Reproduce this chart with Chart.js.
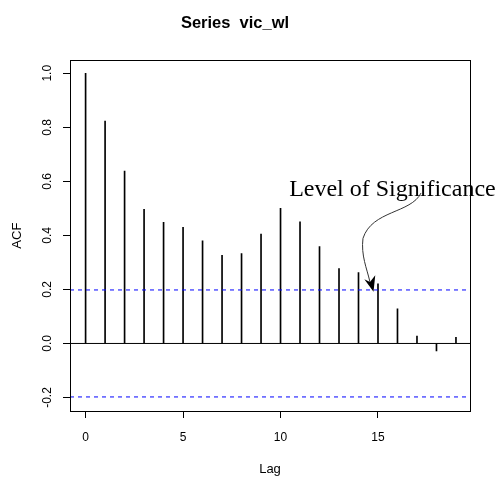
<!DOCTYPE html>
<html>
<head>
  <title>Series vic_wl</title>
  <script src="https://cdn.jsdelivr.net/npm/chart.js"></script>
  <style>
    body {
      margin: 0;
      background-color: #fff;
    }
  </style>
</head>
<body>
  <canvas id="acfChart" width="498" height="477"></canvas>

  <script>
    // lags and autocorrelations
    const lags = [0, 1, 2, 3, 4, 5, 6, 7, 8, 9, 10, 11, 12, 13, 14, 15, 16, 17, 18, 19];
    const acfValues = [1.0, 0.823, 0.638, 0.496, 0.448, 0.43, 0.38, 0.326, 0.333, 0.405,
                       0.5, 0.45, 0.359, 0.277, 0.262, 0.221, 0.128, 0.027, -0.028, 0.023];
    const confLimit = 0.198;
    const xTicks = [0, 5, 10, 15];
    const yTicks = [-0.2, 0.0, 0.2, 0.4, 0.6, 0.8, 1.0];
    const xRange = [-0.8, 19.72];
    const yRange = [-0.25, 1.048];

    const sansFont = 'Liberation Sans, Arial, sans-serif';

    // box round the plot, rotated y labels, and the hand-drawn note
    const extras = {
      id: 'extras',
      afterDraw(chart) {
        const ctx = chart.ctx;
        const area = chart.chartArea;
        const xs = chart.scales.x;
        const ys = chart.scales.y;

        ctx.save();
        ctx.strokeStyle = '#000';
        ctx.lineWidth = 1;
        ctx.strokeRect(Math.round(area.left) + 0.5, Math.round(area.top) + 0.5,
                       Math.round(area.right - area.left), Math.round(area.bottom - area.top));

        ctx.fillStyle = '#000';
        ctx.font = '12px ' + sansFont;
        ctx.textAlign = 'center';
        ctx.textBaseline = 'middle';
        yTicks.forEach(v => {
          ctx.save();
          ctx.translate(48, ys.getPixelForValue(v));
          ctx.rotate(-Math.PI / 2);
          ctx.fillText(v.toFixed(1), 0, 0);
          ctx.restore();
        });

        // annotation, placed in data units
        const px = (lag, v) => [xs.getPixelForValue(lag), ys.getPixelForValue(v)];
        ctx.font = '24px Liberation Serif, Times New Roman, serif';
        ctx.textAlign = 'center';
        ctx.textBaseline = 'alphabetic';
        const t = px(15.74, 0.544);
        ctx.fillText('Level of Significance', t[0], t[1]);

        ctx.beginPath();
        let p = px(17.21, 0.557);
        ctx.moveTo(p[0], p[1]);
        let c1 = px(16.69, 0.481), c2 = px(14.69, 0.493), e = px(14.23, 0.389);
        ctx.bezierCurveTo(c1[0], c1[1], c2[0], c2[1], e[0], e[1]);
        c1 = px(14.12, 0.326); c2 = px(14.43, 0.278); e = px(14.59, 0.227);
        ctx.bezierCurveTo(c1[0], c1[1], c2[0], c2[1], e[0], e[1]);
        ctx.strokeStyle = '#333';
        ctx.stroke();

        const tip = px(14.77, 0.191), lw = px(14.30, 0.238), notch = px(14.59, 0.227), rw = px(14.86, 0.252);
        ctx.beginPath();
        ctx.moveTo(tip[0], tip[1]);
        ctx.lineTo(lw[0], lw[1]);
        ctx.lineTo(notch[0], notch[1]);
        ctx.lineTo(rw[0], rw[1]);
        ctx.closePath();
        ctx.fill();
        ctx.restore();
      }
    };

    const ctx = document.getElementById('acfChart').getContext('2d');

    new Chart(ctx, {
      type: 'bar',
      data: {
        datasets: [
          {
            type: 'line',
            data: [{x: xRange[0], y: 0}, {x: xRange[1], y: 0}],
            borderColor: '#000',
            borderWidth: 1,
            pointRadius: 0
          },
          {
            type: 'line',
            data: [{x: xRange[0], y: confLimit}, {x: xRange[1], y: confLimit}],
            borderColor: '#0000ff',
            borderWidth: 1,
            borderDash: [4, 4],
            pointRadius: 0
          },
          {
            type: 'line',
            data: [{x: xRange[0], y: -confLimit}, {x: xRange[1], y: -confLimit}],
            borderColor: '#0000ff',
            borderWidth: 1,
            borderDash: [4, 4],
            pointRadius: 0
          },
          {
            data: lags.map((lag, i) => ({x: lag, y: acfValues[i]})),
            backgroundColor: '#000',
            barThickness: 1,
            grouped: false
          }
        ]
      },
      options: {
        responsive: false,
        animation: false,
        layout: { padding: { left: 0, right: 28, top: 0, bottom: 0 } },
        plugins: {
          legend: { display: false },
          tooltip: { enabled: false },
          title: {
            display: true,
            text: 'Series  vic_wl',
            color: '#000',
            font: { family: sansFont, size: 16.5, weight: 'bold' },
            padding: { top: 13.5, bottom: 27 }
          }
        },
        scales: {
          x: {
            type: 'linear',
            min: xRange[0],
            max: xRange[1],
            offset: false,
            afterFit: s => { s.height = 66; },
            afterBuildTicks: s => { s.ticks = xTicks.map(v => ({value: v})); },
            grid: { drawOnChartArea: false, tickLength: 7, tickColor: '#000', offset: false },
            border: { display: false },
            ticks: {
              color: '#000',
              font: { family: sansFont, size: 12 },
              padding: 12,
              maxRotation: 0
            },
            title: {
              display: true,
              text: 'Lag',
              color: '#000',
              font: { family: sansFont, size: 13 },
              padding: { top: 0, bottom: 0 }
            }
          },
          y: {
            min: yRange[0],
            max: yRange[1],
            afterFit: s => { s.width = 70; },
            afterBuildTicks: s => { s.ticks = yTicks.map(v => ({value: v})); },
            grid: { drawOnChartArea: false, tickLength: 7, tickColor: '#000' },
            border: { display: false },
            ticks: { display: false },
            title: {
              display: true,
              text: 'ACF',
              color: '#000',
              font: { family: sansFont, size: 13 },
              padding: { top: 10, bottom: 0 }
            }
          }
        }
      },
      plugins: [extras]
    });
  </script>
</body>
</html>
